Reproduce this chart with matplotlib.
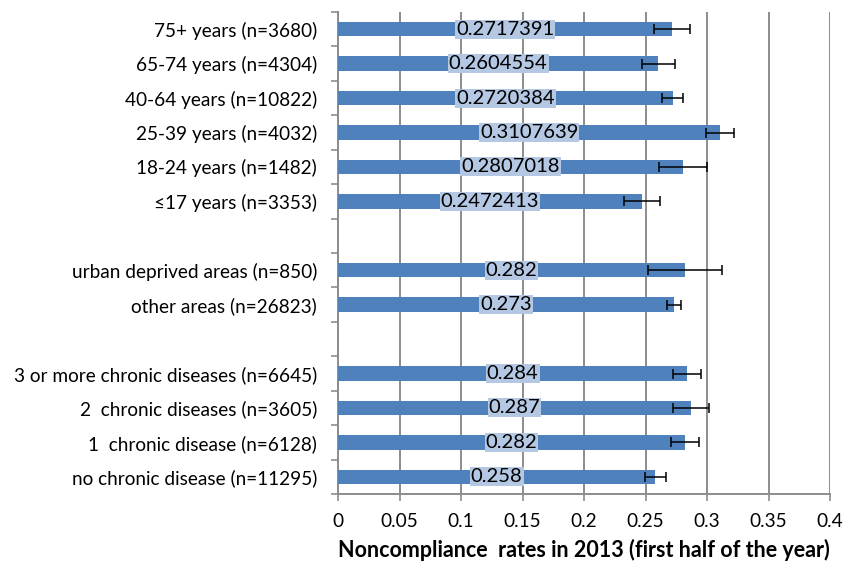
import numpy as np
from matplotlib import pyplot as plt
from matplotlib.ticker import FixedLocator

plt.rcParams['font.family'] = ['Lato', 'DejaVu Sans']

# rows from top to bottom, '' marks an empty spacer row
categories = ['75+ years (n=3680)', '65-74 years (n=4304)', '40-64 years (n=10822)',
              '25-39 years (n=4032)', '18-24 years (n=1482)', '\u226417 years (n=3353)',
              '',
              'urban deprived areas (n=850)', 'other areas (n=26823)',
              '',
              '3 or more chronic diseases (n=6645)', '2  chronic diseases (n=3605)',
              '1  chronic disease (n=6128)', 'no chronic disease (n=11295)']
rates = [0.2717391, 0.2604554, 0.2720384, 0.3107639, 0.2807018, 0.2472413, None,
         0.282, 0.273, None,
         0.284, 0.287, 0.282, 0.258]
errors = [0.0145, 0.0134, 0.0085, 0.0115, 0.0195, 0.0148, None,
          0.030, 0.0055, None,
          0.0114, 0.0146, 0.0115, 0.0084]
value_labels = ['0.2717391', '0.2604554', '0.2720384', '0.3107639', '0.2807018', '0.2472413', '',
                '0.282', '0.273', '',
                '0.284', '0.287', '0.282', '0.258']
xticks = [0, 0.05, 0.1, 0.15, 0.2, 0.25, 0.3, 0.35, 0.4]
xtick_labels = ['0', '0.05', '0.1', '0.15', '0.2', '0.25', '0.3', '0.35', '0.4']

bar_color = '#4F81BD'
box_color = '#B4C8E4'
grid_color = '#8C8C8C'

def main() :
    fig = plt.figure(figsize=(8.44, 5.62), dpi=100)
    ax = fig.add_axes([338/844, 1-494/562, (830-338)/844, (494-12)/562])

    idx = [i for i, r in enumerate(rates) if r is not None]
    ys = np.array(idx)
    vals = np.array([rates[i] for i in idx])
    errs = np.array([errors[i] for i in idx])

    ax.barh(ys, vals, height=0.42, color=bar_color, zorder=3)
    ax.errorbar(vals, ys, xerr=errs, fmt='none', ecolor='black', elinewidth=1.1,
                capsize=3.5, capthick=1.1, zorder=4)
    for i in idx:
        ax.text(rates[i]/2, i, value_labels[i], ha='center', va='center', fontsize=14.5,
                color='black', zorder=5,
                bbox=dict(boxstyle='square,pad=0.05', fc=box_color, ec='none'))

    ax.set_xticks(xticks)
    ax.set_xticklabels(xtick_labels)
    ax.set_xlim(0, 0.4)
    ax.set_ylim(len(categories)-0.5, -0.5)
    ax.grid(axis='x', color=grid_color, linewidth=1.4, zorder=0)

    ax.set_yticks(range(len(categories)))
    ax.set_yticklabels(categories)
    ax.yaxis.set_minor_locator(FixedLocator(np.arange(-0.5, len(categories), 1.0)))
    ax.tick_params(axis='y', which='major', length=0, pad=15, labelsize=13.7)
    ax.tick_params(axis='y', which='minor', length=5, color=grid_color, width=1.2)
    ax.tick_params(axis='x', which='major', length=5, color=grid_color, width=1.2,
                   labelsize=13.7, pad=9)

    for s in ['top', 'right']:
        ax.spines[s].set_visible(False)
    for s in ['left', 'bottom']:
        ax.spines[s].set_color(grid_color)
        ax.spines[s].set_linewidth(1.4)

    ax.set_xlabel('Noncompliance  rates in 2013 (first half of the year)', fontsize=15.5,
                  fontweight='bold', labelpad=6)

    fig.savefig('out.png', dpi=100)

if __name__ == "__main__" :
    main()
